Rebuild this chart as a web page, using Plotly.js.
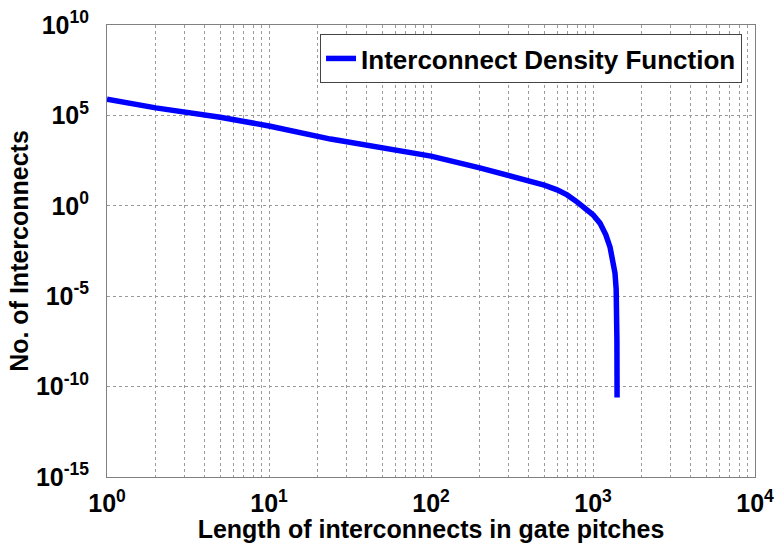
<!DOCTYPE html>
<html>
<head>
<meta charset="utf-8">
<script src="https://cdn.plot.ly/plotly-3.0.1.min.js"></script>
<style>html,body{margin:0;padding:0;background:#fff;}#chart{width:784px;height:543px;}</style>
</head>
<body>
<div id="chart"></div>
<script>
// Interconnect length (gate pitches)
const lengths = [1, 2, 5, 10, 24, 50, 100, 200, 267, 409, 500, 600, 692, 800, 870, 1000, 1104, 1200, 1274, 1330, 1367, 1390, 1400, 1405, 1408];
// Number of interconnects
const counts = [7.9e5, 2.6e5, 7.9e4, 2.6e4, 4.9e3, 1.6e3, 5.6e2, 1.26e2, 63, 25, 14, 7.6, 4.0, 1.6, 0.85, 0.32, 0.11, 0.025, 5.2e-3, 1e-3, 1.9e-4, 2.5e-5, 2.5e-6, 3.2e-8, 2.5e-11];
const seriesName = "Interconnect Density Function";
const xTitle = "Length of interconnects in gate pitches";
const yTitle = "No. of Interconnects";
const xTickVals = [1, 10, 100, 1000, 10000];
const xTickText = ["10<sup>0</sup>", "10<sup>1</sup>", "10<sup>2</sup>", "10<sup>3</sup>", "10<sup>4</sup>"];
const yTickVals = [1e-15, 1e-10, 1e-5, 1, 1e5, 1e10];
const yTickText = ["10<sup>-15</sup>", "10<sup>-10</sup>", "10<sup>-5</sup>", "10<sup>0</sup>", "10<sup>5</sup>", "10<sup>10</sup>"];

const gridDot = {gridcolor: '#9a9a9a', griddash: 'dot', gridwidth: 1};
const layout = {
  width: 784, height: 543,
  margin: {l: 107, r: 29, t: 25, b: 66},
  paper_bgcolor: '#fff', plot_bgcolor: '#fff',
  font: {family: 'Liberation Sans, Arial, sans-serif', color: '#000'},
  showlegend: true,
  legend: {
    x: 0.98, y: 0.98, xanchor: 'right', yanchor: 'top',
    bgcolor: '#fff', bordercolor: '#444', borderwidth: 1,
    itemwidth: 30,
    font: {size: 26, family: 'Liberation Sans, Arial, sans-serif', weight: 'bold'}
  },
  xaxis: {
    type: 'log', range: [0, 4],
    tickmode: 'array', tickvals: xTickVals, ticktext: xTickText,
    showgrid: true, ...gridDot,
    minor: {showgrid: true, dtick: 'D1', ...gridDot, ticks: ''},
    showline: true, linecolor: '#808080', linewidth: 1, mirror: true,
    ticks: '', zeroline: false,
    tickfont: {size: 25, weight: 'bold'},
    ticklabelstandoff: 4,
    title: {text: xTitle, font: {size: 25, weight: 'bold'}, standoff: 0}
  },
  yaxis: {
    type: 'log', range: [-15, 10],
    tickmode: 'array', tickvals: yTickVals, ticktext: yTickText,
    showgrid: true, ...gridDot,
    showline: true, linecolor: '#808080', linewidth: 1, mirror: true,
    ticks: '', zeroline: false,
    tickfont: {size: 25, weight: 'bold'},
    ticklabelstandoff: 12,
    title: {text: yTitle, font: {size: 25, weight: 'bold'}, standoff: 0}
  }
};
const data = [{
  x: lengths, y: counts, name: seriesName,
  type: 'scatter', mode: 'lines',
  line: {color: '#0000ff', width: 5.5}
}];
Plotly.newPlot('chart', data, layout, {displayModeBar: false, staticPlot: true});
</script>
</body>
</html>
